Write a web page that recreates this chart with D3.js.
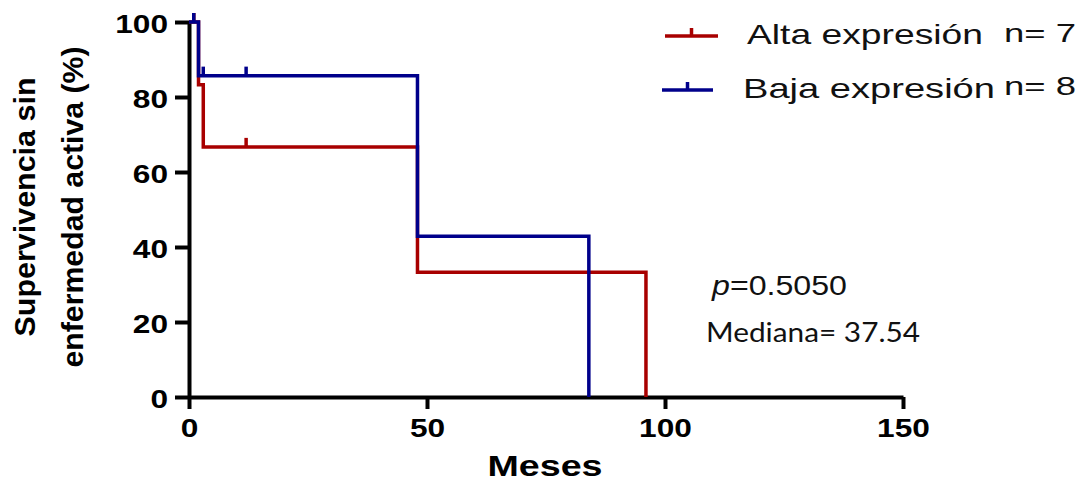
<!DOCTYPE html>
<html>
<head>
<meta charset="utf-8">
<script src="https://cdn.jsdelivr.net/npm/d3@7"></script>
<style>
  body { margin: 0; background: #fff; }
  svg { display: block; }
</style>
</head>
<body>
<div class="container"></div>
<script>
const WIDTH = 1080;
const HEIGHT = 483;

// datos
var groups = ["Alta expresión", "Baja expresión"];
var groupN = ["n= 7", "n= 8"];
var colors = ["#a80000", "#00008b"];

var altaTimes = [0, 2, 3, 48, 96];
var altaSurv = [100, 83.3, 66.7, 33.3, 0];
var altaCensorTimes = [1, 12];
var altaCensorSurv = [100, 66.7];

var bajaTimes = [0, 2, 48, 84];
var bajaSurv = [100, 85.7, 42.9, 0];
var bajaCensorTimes = [1, 3, 12];
var bajaCensorSurv = [100, 85.7, 85.7];

var xTicks = [0, 50, 100, 150];
var yTicks = [0, 20, 40, 60, 80, 100];

var x = d3.scaleLinear().domain([0, 150]).range([189, 903]);
var y = d3.scaleLinear().domain([0, 100]).range([397, 22]);

var svg = d3.select(".container").append("svg")
    .attr("width", WIDTH)
    .attr("height", HEIGHT);

// ejes
var yAxis = svg.append("g")
    .attr("transform", "translate(" + x(0) + ",0)")
    .call(d3.axisLeft(y).tickValues(yTicks).tickSize(14).tickSizeOuter(0).tickPadding(7));

var xAxis = svg.append("g")
    .attr("transform", "translate(0," + y(0) + ")")
    .call(d3.axisBottom(x).tickValues(xTicks).tickSize(12).tickSizeOuter(0));

[yAxis, xAxis].forEach(function(ax){
    ax.select(".domain").attr("stroke", "#000").attr("stroke-width", 4);
    ax.selectAll(".tick line").attr("stroke", "#000").attr("stroke-width", 4);
    ax.selectAll(".tick text")
        .attr("fill", "#000")
        .style("font-family", "'Liberation Sans', Arial, sans-serif")
        .style("font-weight", "bold")
        .style("font-size", "26px")
        .attr("textLength", function(d){ return String(d).length * 17.6; })
        .attr("lengthAdjust", "spacingAndGlyphs");
});
yAxis.selectAll(".tick text").attr("dy", 10);
xAxis.selectAll(".tick text").attr("y", 40).attr("dy", 0);

// curvas
var stepLine = d3.line()
    .x(function(d){ return x(d[0]); })
    .y(function(d){ return y(d[1]); })
    .curve(d3.curveStepAfter);

var series = [
    {times: altaTimes, surv: altaSurv, cTimes: altaCensorTimes, cSurv: altaCensorSurv, color: colors[0]},
    {times: bajaTimes, surv: bajaSurv, cTimes: bajaCensorTimes, cSurv: bajaCensorSurv, color: colors[1]}
];

series.forEach(function(s){
    var pts = s.times.map(function(t, i){ return [t, s.surv[i]]; });
    svg.append("path")
        .attr("d", stepLine(pts))
        .attr("fill", "none")
        .attr("stroke", s.color)
        .attr("stroke-width", 3.5);

    svg.selectAll(null)
        .data(s.cTimes.map(function(t, i){ return [t, s.cSurv[i]]; }))
        .enter().append("line")
        .attr("x1", function(d){ return x(d[0]); })
        .attr("x2", function(d){ return x(d[0]); })
        .attr("y1", function(d){ return y(d[1]); })
        .attr("y2", function(d){ return y(d[1]) - 9; })
        .attr("stroke", s.color)
        .attr("stroke-width", 3.5);
});

// titulos de ejes
var yTitle = svg.append("g")
    .style("font-family", "'Liberation Sans', Arial, sans-serif")
    .style("font-weight", "bold")
    .style("font-size", "29px")
    .attr("text-anchor", "middle");
yTitle.append("text")
    .attr("transform", "translate(35,207) rotate(-90)")
    .attr("textLength", 259).attr("lengthAdjust", "spacingAndGlyphs")
    .text("Supervivencia sin");
yTitle.append("text")
    .attr("transform", "translate(83,207) rotate(-90)")
    .attr("textLength", 321).attr("lengthAdjust", "spacingAndGlyphs")
    .text("enfermedad activa (%)");

svg.append("text")
    .attr("x", 545).attr("y", 476)
    .attr("text-anchor", "middle")
    .style("font-family", "'Liberation Sans', Arial, sans-serif")
    .style("font-weight", "bold")
    .style("font-size", "29px")
    .attr("textLength", 115).attr("lengthAdjust", "spacingAndGlyphs")
    .text("Meses");

// leyenda
var legendY = [36, 90];
var legendX = [[665, 718], [662, 713]];
var legendTextX = [747, 743];
var legendTextW = [236, 252];
var legendNY = [42, 95];

groups.forEach(function(g, i){
    var lg = svg.append("g");
    lg.append("line")
        .attr("x1", legendX[i][0]).attr("x2", legendX[i][1])
        .attr("y1", legendY[i]).attr("y2", legendY[i])
        .attr("stroke", colors[i]).attr("stroke-width", 3.5);
    var mid = (legendX[i][0] + legendX[i][1]) / 2;
    lg.append("line")
        .attr("x1", mid).attr("x2", mid)
        .attr("y1", legendY[i]).attr("y2", legendY[i] - 8)
        .attr("stroke", colors[i]).attr("stroke-width", 3.5);
    lg.append("text")
        .attr("x", legendTextX[i]).attr("y", legendY[i] + 7.5)
        .style("font-family", "'Liberation Sans', Arial, sans-serif")
        .style("font-size", "28px")
        .attr("fill", "#111")
        .attr("textLength", legendTextW[i]).attr("lengthAdjust", "spacingAndGlyphs")
        .text(g);
    lg.append("text")
        .attr("x", 1004).attr("y", legendNY[i])
        .style("font-family", "'Liberation Sans', Arial, sans-serif")
        .style("font-size", "25px")
        .attr("fill", "#111")
        .attr("textLength", 72).attr("lengthAdjust", "spacingAndGlyphs")
        .text(groupN[i]);
});

// anotaciones
var pText = svg.append("text")
    .attr("x", 712).attr("y", 295)
    .style("font-family", "'Liberation Sans', Arial, sans-serif")
    .style("font-size", "27px")
    .attr("fill", "#111")
    .attr("textLength", 135).attr("lengthAdjust", "spacingAndGlyphs");
pText.append("tspan").style("font-style", "italic").text("p");
pText.append("tspan").text("=0.5050");

svg.append("text")
    .attr("x", 706).attr("y", 342)
    .style("font-family", "Lato, 'Open Sans', sans-serif")
    .style("font-size", "26px")
    .attr("fill", "#111")
    .attr("textLength", 214).attr("lengthAdjust", "spacingAndGlyphs")
    .text("Mediana= 37.54");
</script>
</body>
</html>
